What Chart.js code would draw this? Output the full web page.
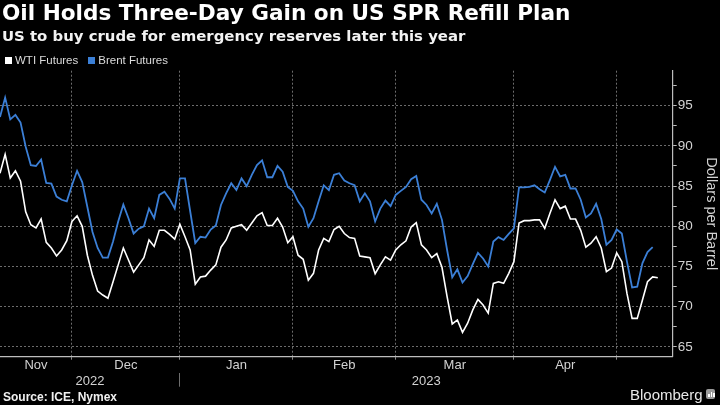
<!DOCTYPE html>
<html>
<head>
<meta charset="utf-8">
<script src="https://cdn.jsdelivr.net/npm/chart.js@4/dist/chart.umd.min.js"></script>
<style>
html,body{margin:0;padding:0;background:#000;}
#wrap{position:relative;width:720px;height:405px;background:#000;overflow:hidden;}
#c{position:absolute;left:0;top:0;}
.t{position:absolute;white-space:nowrap;}
#title{left:2px;top:1px;font:bold 21.6px/24px "DejaVu Sans",sans-serif;color:#fff;}
#sub{left:2px;top:27px;font:bold 14.9px/18px "DejaVu Sans",sans-serif;color:#f2f2f2;}
#legend{position:absolute;left:5px;top:53.5px;font:11.5px/13px "Liberation Sans",sans-serif;color:#dcdcdc;display:flex;}
#legend .item{display:flex;align-items:center;margin-right:10px;}
#legend .sw{width:7px;height:7px;margin-right:3px;}
#source{left:3px;top:390px;font:bold 12px/14px "Liberation Sans",sans-serif;color:#f0f0f0;}
#brand{left:630px;top:386px;font:15px/18px "Liberation Sans",sans-serif;color:#e8e8e8;}
#icon{position:absolute;left:706px;top:389px;width:9px;height:10px;background:#9a9a9a;border-radius:2px;}
#icon i{position:absolute;bottom:2px;width:1.5px;background:#fff;}
</style>
</head>
<body>
<div id="wrap">
  <canvas id="c" width="720" height="405"></canvas>
  <div class="t" id="title">Oil Holds Three-Day Gain on US SPR Refill Plan</div>
  <div class="t" id="sub">US to buy crude for emergency reserves later this year</div>
  <div id="legend"></div>
  <div class="t" id="source">Source: ICE, Nymex</div>
  <div class="t" id="brand">Bloomberg</div>
  <div id="icon"><i style="left:2px;height:3px"></i><i style="left:4.5px;height:5px"></i><i style="left:7px;height:4px"></i></div>
</div>
<script>
// ---- data (daily closes, index = trading day from mid-Nov 2022) ----
const wti = [
  86.6, 88.95, 86.0, 86.9, 85.6, 81.8, 80.2, 79.8, 80.9, 78.0,
  77.3, 76.3, 77.05, 78.2, 80.6, 81.3, 80.0, 76.4, 73.9, 71.95,
  71.45, 71.05, 73.1, 75.2, 77.3, 75.8, 74.3, 75.2, 76.1, 78.3,
  77.5, 79.5, 79.5, 79.0, 78.4, 80.25, 78.7, 77.05, 72.8, 73.7,
  73.8, 74.55, 75.2, 77.4, 78.3, 79.8, 80.0, 80.2, 79.5, 80.4,
  81.3, 81.7, 80.1, 80.1, 81.0, 79.9, 77.95, 78.7, 76.4, 75.9,
  73.3, 74.15, 77.05, 78.5, 78.1, 79.6, 80.0, 79.1, 78.6, 78.5,
  76.3, 76.2, 76.1, 74.1, 75.2, 76.2, 75.8, 77.05, 77.7, 78.2,
  79.9, 80.45, 77.7, 77.05, 76.1, 76.6, 74.9, 71.25, 67.85, 68.35,
  66.8, 67.95, 69.6, 70.9, 70.2, 69.2, 72.9, 73.1, 72.9, 74.15,
  75.6, 80.4, 80.7, 80.7, 80.8, 80.8, 79.75, 81.6, 83.3, 82.2,
  82.5, 80.9, 80.9, 79.5, 77.4, 77.9, 78.7, 77.3, 74.35, 74.8,
  76.7, 75.6, 71.65, 68.55, 68.55, 70.8, 73.1, 73.7, 73.6
];
const brent = [
  93.6, 96.0, 93.3, 93.85, 92.9, 89.9, 87.6, 87.5, 88.3, 85.4,
  85.3, 83.7, 83.3, 83.1, 85.1, 86.9, 85.5, 82.4, 79.3, 77.3,
  76.1, 76.1, 78.1, 80.6, 82.7, 81.0, 79.1, 79.7, 80.0, 82.2,
  81.0, 83.9, 84.3, 83.4, 82.2, 85.95, 85.95, 81.9, 77.9, 78.7,
  78.6, 79.6, 80.1, 82.65, 84.1, 85.35, 84.5, 85.95, 85.0, 86.4,
  87.6, 88.2, 86.1, 86.1, 87.5, 86.8, 84.9, 84.4, 83.1, 82.2,
  79.95, 81.0, 83.1, 85.1, 84.5, 86.4, 86.6, 85.7, 85.35, 85.1,
  83.1, 84.1, 83.1, 80.6, 82.2, 83.2, 82.5, 83.9, 84.4, 84.9,
  85.85, 86.25, 83.3, 82.65, 81.6, 82.8, 80.8, 77.05, 73.65, 74.65,
  73.0, 73.8, 75.3, 76.7, 76.0, 75.0, 78.1, 78.65, 78.3, 79.05,
  79.75, 84.85, 84.85, 84.9, 85.1, 84.6, 84.2, 85.75, 87.4, 86.2,
  86.4, 84.7, 84.7, 83.3, 81.1, 81.6, 82.8, 80.9, 77.7, 78.3,
  79.6, 79.1, 75.6, 72.4, 72.5, 75.4, 76.8, 77.4
];
const seriesNames = ['WTI Futures', 'Brent Futures'];
const seriesColors = ['#ffffff', '#3b7fd6'];
const monthLabels = ['Nov', 'Dec', 'Jan', 'Feb', 'Mar', 'Apr'];
const monthStarts = [14, 35, 57, 77, 100, 120];   // first trading day of Dec, Jan, Feb, Mar, Apr, May
const yearLabels = ['2022', '2023'];
const yearStarts = [35];                           // first trading day of 2023
const yTicks = [65, 70, 75, 80, 85, 90, 95];
const yMinorTicks = [67.5, 72.5, 77.5, 82.5, 87.5, 92.5, 97.5];
const xMin = 0, xMax = 130.9;
const yMin = 63.78, yMax = 99.35;

// ---- legend (HTML) ----
const lg = document.getElementById('legend');
seriesNames.forEach((n, i) => {
  const d = document.createElement('div'); d.className = 'item';
  const s = document.createElement('span'); s.className = 'sw'; s.style.background = seriesColors[i];
  d.appendChild(s); d.appendChild(document.createTextNode(n)); lg.appendChild(d);
});

// ---- derived tick positions ----
const mBounds = [xMin, ...monthStarts, xMax];
const monthMids = monthLabels.map((_, k) => (mBounds[k] + mBounds[k + 1]) / 2);
const yBounds = [xMin, ...yearStarts, xMax];
const yearMids = yearLabels.map((_, k) => (yBounds[k] + yBounds[k + 1]) / 2);
const yearTickVals = [...yearMids, ...yearStarts].sort((a, b) => a - b);

const gridColor = '#6c6c6c';
const labelColor = '#d2d2d2';
const axisFont = {family: 'Liberation Sans', size: 13};

new Chart(document.getElementById('c'), {
  type: 'line',
  data: {
    datasets: [
      {label: seriesNames[0], data: wti.map((v, i) => ({x: i, y: v})), borderColor: seriesColors[0],
       borderWidth: 1.6, pointRadius: 0, tension: 0, xAxisID: 'x', yAxisID: 'y'},
      {label: seriesNames[1], data: brent.map((v, i) => ({x: i, y: v})), borderColor: seriesColors[1],
       borderWidth: 1.8, pointRadius: 0, tension: 0, xAxisID: 'x', yAxisID: 'y'}
    ]
  },
  options: {
    responsive: false, animation: false, devicePixelRatio: 1,
    layout: {padding: {top: 70.7, left: 0, right: 0, bottom: 12.3}},
    plugins: {legend: {display: false}, tooltip: {enabled: false}, title: {display: false}},
    scales: {
      x: {
        type: 'linear', position: 'bottom', min: xMin, max: xMax, weight: 0,
        afterBuildTicks: s => { s.ticks = monthStarts.map(v => ({value: v})); },
        afterFit: s => { s.height = 1; },
        ticks: {display: false, autoSkip: false},
        grid: {display: true, drawOnChartArea: true, drawTicks: true, tickLength: 3,
               color: gridColor, tickColor: '#8a8a8a', tickBorderDash: [], lineWidth: 1},
        border: {display: true, color: '#bdbdbd', width: 1.2, dash: [2, 2]}
      },
      xm: {
        type: 'linear', position: 'bottom', min: xMin, max: xMax, weight: 1,
        afterBuildTicks: s => { s.ticks = monthMids.map(v => ({value: v})); },
        afterFit: s => { s.height = 15; },
        ticks: {color: labelColor, font: axisFont, padding: 0, autoSkip: false, maxRotation: 0,
                callback: (v, i) => monthLabels[i]},
        grid: {display: false, drawTicks: false},
        border: {display: false}
      },
      xy: {
        type: 'linear', position: 'bottom', min: xMin, max: xMax, weight: 2,
        afterBuildTicks: s => { s.ticks = yearTickVals.map(v => ({value: v})); },
        afterFit: s => { s.height = 20; },
        ticks: {color: labelColor, font: axisFont, padding: -13.5, autoSkip: false, maxRotation: 0,
                callback: v => { const k = yearMids.indexOf(v); return k >= 0 ? yearLabels[k] : ''; }},
        grid: {display: true, drawOnChartArea: false, drawTicks: true, tickLength: 14,
               color: 'rgba(0,0,0,0)', tickBorderDash: [],
               tickColor: c => yearStarts.includes(c.tick && c.tick.value) ? '#6e6e6e' : 'rgba(0,0,0,0)'},
        border: {display: false}
      },
      y: {
        type: 'linear', position: 'right', min: yMin, max: yMax,
        afterBuildTicks: s => { s.ticks = [...yTicks, ...yMinorTicks].sort((a, b) => a - b).map(v => ({value: v})); },
        afterFit: s => { s.width = 47.3; },
        ticks: {color: labelColor, font: {family: 'Liberation Sans', size: 13.5}, padding: 1, autoSkip: false,
                callback: v => yTicks.includes(v) ? String(v) : ''},
        grid: {display: true, drawOnChartArea: true, drawTicks: true, tickLength: 4, tickBorderDash: [],
               color: c => yTicks.includes(c.tick && c.tick.value) ? gridColor : 'rgba(0,0,0,0)',
               tickColor: '#bdbdbd', lineWidth: 1},
        border: {display: true, color: '#bdbdbd', width: 1.2, dash: [2, 2]},
        title: {display: true, text: 'Dollars per Barrel', color: labelColor,
                font: {family: 'Liberation Sans', size: 14.5}, padding: {top: 0, bottom: 0}}
      }
    }
  }
});
</script>
</body>
</html>
